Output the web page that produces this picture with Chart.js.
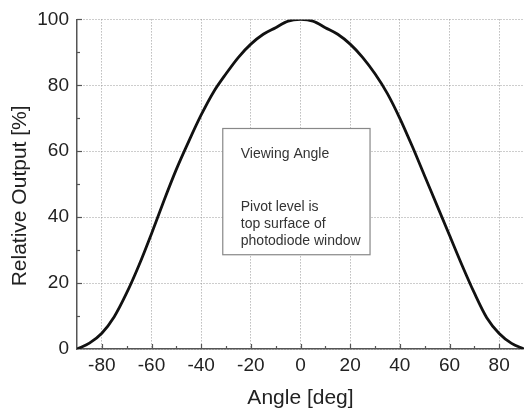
<!DOCTYPE html>
<html lang="en">
  <head>
    <meta charset="UTF-8" />
    <title>Viewing Angle</title>
    <script src="https://cdn.jsdelivr.net/npm/chart.js@4"></script>
    <style>
      body { margin: 0; background: #fff; }
    </style>
  </head>
  <body>
    <canvas id="myChart" width="524" height="412"></canvas>

    <script>
      // values, every 5 degrees
      const angles = [-90, -85, -80, -75, -70, -65, -60, -55, -50, -45, -40, -35, -30, -25, -20, -15, -10, -5,
        0, 5, 10, 15, 20, 25, 30, 35, 40, 45, 50, 55, 60, 65, 70, 75, 80, 85, 90];
      const output = [0, 1.8, 4.8, 9.8, 17, 25.5, 35, 45, 54.5, 63, 71, 78, 83.5, 88.5, 92.5, 95.5, 97.5, 99.5,
        100, 99.5, 97.5, 95.5, 92.5, 88.5, 83.5, 77.5, 70, 61.5, 52.5, 43.5, 34.5, 25.5, 17, 9.5, 4.7, 1.7, 0];

      const xTicks = [-80, -60, -40, -20, 0, 20, 40, 60, 80];
      const yTicks = [0, 20, 40, 60, 80, 100];
      const xMinor = [-80, -70, -60, -50, -40, -30, -20, -10, 0, 10, 20, 30, 40, 50, 60, 70, 80];
      const yMinor = [10, 20, 30, 40, 50, 60, 70, 80, 90, 100];

      const noteTitle = 'Viewing Angle';
      const noteLines = ['Pivot level is', 'top surface of', 'photodiode window'];

      const FONT = "'Liberation Sans', Arial, sans-serif";

      // small inward ticks on both axes
      const axisTicks = {
        id: 'axisTicks',
        afterDraw(chart) {
          const { ctx, scales: { x, y }, chartArea } = chart;
          ctx.save();
          ctx.strokeStyle = '#555';
          ctx.lineWidth = 1.2;
          xMinor.forEach(v => {
            const px = Math.round(x.getPixelForValue(v)) + 0.5;
            const len = v % 20 === 0 ? 5 : 3;
            ctx.beginPath();
            ctx.moveTo(px, chartArea.bottom);
            ctx.lineTo(px, chartArea.bottom - len);
            ctx.stroke();
          });
          yMinor.forEach(v => {
            const py = Math.round(y.getPixelForValue(v)) + 0.5;
            const len = v % 20 === 0 ? 5 : 3;
            ctx.beginPath();
            ctx.moveTo(chartArea.left, py);
            ctx.lineTo(chartArea.left + len, py);
            ctx.stroke();
          });
          ctx.restore();
        }
      };

      // the note box in the middle of the plot
      const noteBox = {
        id: 'noteBox',
        beforeDatasetsDraw(chart) {
          const { ctx, scales: { x, y } } = chart;
          const left = x.getPixelForValue(-31.3);
          const right = x.getPixelForValue(28);
          const top = y.getPixelForValue(66.9);
          const bottom = y.getPixelForValue(28.6);
          ctx.save();
          ctx.fillStyle = '#fff';
          ctx.fillRect(left, top, right - left, bottom - top);
          ctx.strokeStyle = '#888';
          ctx.lineWidth = 1.2;
          ctx.strokeRect(left, top, right - left, bottom - top);
          ctx.fillStyle = '#333';
          ctx.font = '14px ' + FONT;
          ctx.textBaseline = 'middle';
          ctx.fillText(noteTitle, left + 18, top + 26);
          noteLines.forEach((t, i) => {
            ctx.fillText(t, left + 18, top + 79 + i * 16.7);
          });
          ctx.restore();
        }
      };

      const ctx = document.getElementById('myChart').getContext('2d');
      const myChart = new Chart(ctx, {
        type: 'line',
        data: {
          datasets: [
            {
              label: 'Relative Output',
              data: angles.map((a, i) => ({ x: a, y: output[i] })),
              borderColor: '#111',
              borderWidth: 2.8,
              pointRadius: 0,
              fill: false,
              cubicInterpolationMode: 'monotone'
            }
          ]
        },
        options: {
          responsive: false,
          animation: false,
          layout: { padding: { top: 17, right: 0, left: 0, bottom: 0 } },
          plugins: { legend: { display: false }, tooltip: { enabled: false } },
          scales: {
            x: {
              type: 'linear',
              min: -90,
              max: 90,
              afterBuildTicks: scale => { scale.ticks = xTicks.map(v => ({ value: v })); },
              afterFit: scale => { scale.height = 63; },
              // in v4 border.dash styles the grid lines, the axis line stays solid
              grid: { color: '#9a9a9a', lineWidth: 1, drawTicks: false },
              border: { color: '#555', width: 1.5, dash: [1, 2] },
              ticks: { padding: 5, color: '#222', font: { family: FONT, size: 19 } },
              title: {
                display: true,
                text: 'Angle [deg]',
                color: '#222',
                font: { family: FONT, size: 21 },
                padding: { top: 0, bottom: 1 }
              }
            },
            y: {
              min: 0,
              max: 100,
              afterBuildTicks: scale => { scale.ticks = yTicks.map(v => ({ value: v })); },
              afterFit: scale => { scale.width = 77; },
              grid: { color: '#9a9a9a', lineWidth: 1, drawTicks: false },
              border: { color: '#555', width: 1.5, dash: [1, 2] },
              ticks: { padding: 8, color: '#222', font: { family: FONT, size: 19 } },
              title: {
                display: true,
                text: 'Relative Output [%]    ',
                color: '#222',
                font: { family: FONT, size: 21 },
                padding: { top: 8, bottom: 0 }
              }
            }
          }
        },
        plugins: [noteBox, axisTicks]
      });
    </script>
  </body>
</html>
